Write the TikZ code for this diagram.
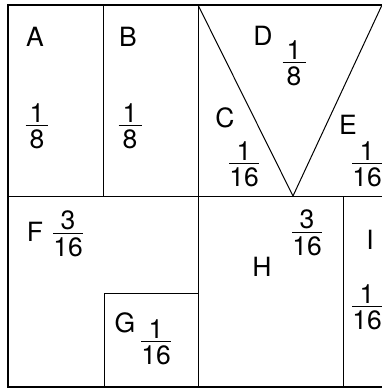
\documentclass[tikz,border=0pt]{standalone}
\usepackage{fontspec}
\setmainfont{TeX Gyre Heros}
\newcommand{\fr}[2]{%
  \setbox0\hbox{#1}\setbox2\hbox{#2}%
  \dimen0=23pt
  \ifdim\wd0>\dimen0 \dimen0=\wd0\fi
  \ifdim\wd2>\dimen0 \dimen0=\wd2\fi
  \vbox{\hbox to\dimen0{\hss#1\hss}\kern3pt\hrule height 1.1pt\kern3.5pt\hbox to\dimen0{\hss#2\hss}}}
\tikzset{
  outer/.style={line width=1.4pt},
  inner/.style={line width=1pt},
  lbl/.style={inner sep=0pt, font=\fontsize{26.5}{31}\selectfont}
}
\begin{document}
\begin{tikzpicture}[x=1pt,y=-1pt]
\useasboundingbox (0,0) rectangle (382,389);
% outer frame
\draw[outer] (382,5) -- (8,5) -- (8,387) -- (382,387);
% inner lines
\draw[inner] (103,5) -- (103,196);
\draw[inner] (198,5) -- (198,387);
\draw[inner] (8,196) -- (382,196);
\draw[inner] (198,5) -- (293,196) -- (382,5);
\draw[inner] (343,196) -- (343,387);
\draw[inner] (104,387) -- (104,293) -- (198,293);
% labels
\node[lbl] (A) at (35,37) {A};
\node[lbl] (fA) at (37,126) {\fr{1}{8}};
\node[lbl] (B) at (128,37) {B};
\node[lbl] (fB) at (130,126) {\fr{1}{8}};
\node[lbl] (D) at (263,36) {D};
\node[lbl] (fD) at (294,63) {\fr{1}{8}};
\node[lbl] (C) at (225,118) {C};
\node[lbl] (fC) at (244,164) {\fr{1}{16}};
\node[lbl] (E) at (348,125) {E};
\node[lbl] (fE) at (367,164) {\fr{1}{16}};
\node[lbl] (F) at (35,232) {F};
\node[lbl] (fF) at (68,234) {\fr{3}{16}};
\node[lbl] (G) at (125,323) {G};
\node[lbl] (fG) at (156,342) {\fr{1}{16}};
\node[lbl] (H) at (262,267) {H};
\node[lbl] (fH) at (307,233) {\fr{3}{16}};
\node[lbl] (I) at (370,240) {I};
\node[lbl] (fI) at (367,307) {\fr{1}{16}};
\end{tikzpicture}
\end{document}
